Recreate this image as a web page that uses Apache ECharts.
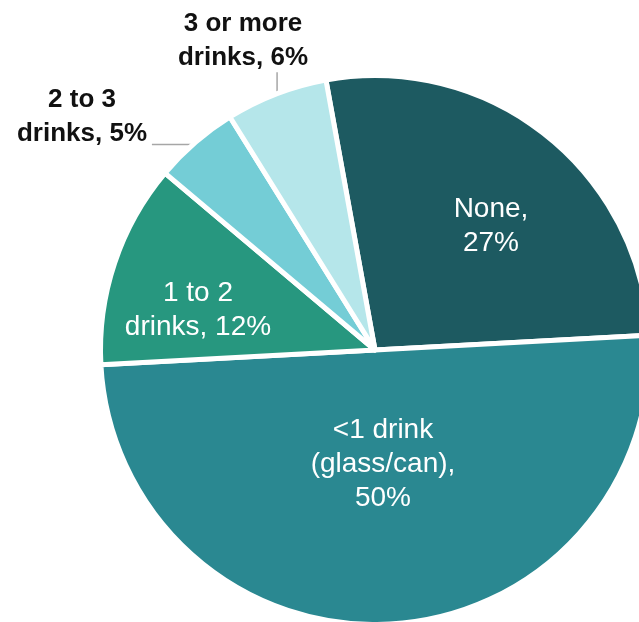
<!DOCTYPE html>
<html>
<head>
<meta charset="utf-8">
<script src="https://cdn.jsdelivr.net/npm/echarts@6/dist/echarts.min.js"></script>
<style>
  html, body { margin: 0; padding: 0; background: #ffffff; }
  #chart { width: 639px; height: 622px; }
</style>
</head>
<body>
<div id="chart"></div>
<script>
// Drinks per occasion: share of respondents
const categories = ['None', '<1 drink (glass/can)', '1 to 2 drinks', '2 to 3 drinks', '3 or more drinks'];
const labelTexts = ['None,\n27%', '<1 drink\n(glass/can),\n50%', '1 to 2\ndrinks, 12%', '2 to 3\ndrinks, 5%', '3 or more\ndrinks, 6%'];
const shares = [27, 50, 12, 5, 6];
const sliceColors = ['#1d5a61', '#2a8891', '#27977f', '#74cdd6', '#b5e6ea'];

// Pie geometry
const CENTER = [375, 350];
const RADIUS = 274.5;
const BORDER = 5;
const START_ANGLE = 100.3; // degrees, counter-clockwise from 3 o'clock

// Label centres, and which labels sit outside with a leader line
const labelSpots = [[491, 226], [383, 464], [198, 310], [82, 117], [243, 41]];
const outsideLabel = [false, false, false, true, true];
// Leader line direction from the slice edge toward its label (dx, dy)
const leaderVectors = { 3: [-45, 0], 4: [0, -24] };

const chart = echarts.init(document.getElementById('chart'), null, { renderer: 'canvas' });

const data = categories.map((name, i) => ({
  name: name,
  value: shares[i],
  itemStyle: { color: sliceColors[i] },
  label: outsideLabel[i]
    ? { color: '#111111', fontWeight: 'bold', fontSize: 26 }
    : { color: '#ffffff', fontWeight: 'normal', fontSize: 28 }
}));

// Leader lines start at the visible outer arc, at each slice's mid angle
const total = shares.reduce((a, b) => a + b, 0);
const edgeRadius = RADIUS - BORDER / 2;
const leaderLines = [];
let acc = 0;
shares.forEach((v, i) => {
  const mid = acc + v / 2;
  acc += v;
  if (!leaderVectors[i]) return;
  const ang = (START_ANGLE - mid / total * 360) * Math.PI / 180;
  const x1 = CENTER[0] + edgeRadius * Math.cos(ang);
  const y1 = CENTER[1] - edgeRadius * Math.sin(ang);
  const vec = leaderVectors[i];
  leaderLines.push({
    type: 'line',
    silent: true,
    shape: { x1: x1, y1: y1, x2: x1 + vec[0], y2: y1 + vec[1] },
    style: { stroke: '#a6a6a6', lineWidth: 1.5 }
  });
});

chart.setOption({
  animation: false,
  graphic: leaderLines,
  series: [{
    type: 'pie',
    center: CENTER,
    radius: [0, RADIUS],
    startAngle: START_ANGLE,
    clockwise: true,
    avoidLabelOverlap: false,
    itemStyle: { borderColor: '#ffffff', borderWidth: BORDER },
    label: {
      show: true,
      position: 'inside',
      fontFamily: 'Liberation Sans',
      lineHeight: 34,
      align: 'center',
      formatter: p => labelTexts[p.dataIndex]
    },
    labelLine: { show: false },
    labelLayout: function (params) {
      const spot = labelSpots[params.dataIndex];
      return { x: spot[0], y: spot[1], align: 'center', verticalAlign: 'middle' };
    },
    data: data
  }]
});
</script>
</body>
</html>
